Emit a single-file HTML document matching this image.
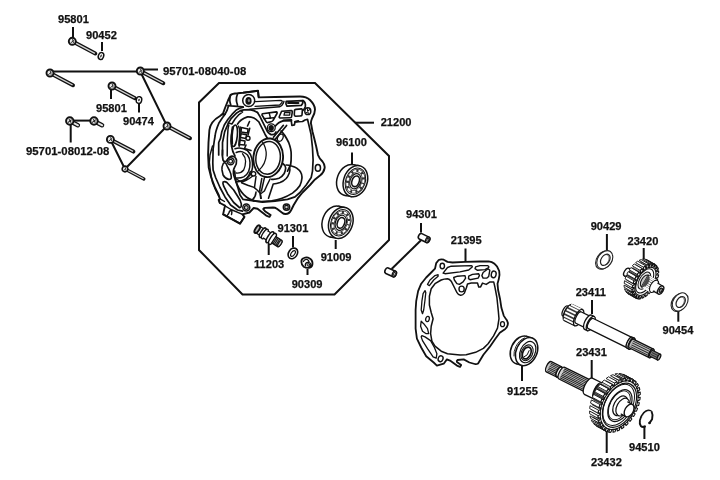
<!DOCTYPE html>
<html><head><meta charset="utf-8">
<style>
html,body{margin:0;padding:0;background:#fff;}
body{width:720px;height:480px;overflow:hidden;}
svg{display:block;filter:blur(0.35px);}
text{font-family:"Liberation Sans",sans-serif;font-weight:bold;font-size:11.1px;fill:#111;stroke:#111;stroke-width:0.25px;}
.ld{stroke:#111;stroke-width:2;fill:none;stroke-linecap:butt;}
.k{stroke:#111;fill:none;stroke-linecap:round;stroke-linejoin:round;}
.w{fill:#fff;stroke:#111;stroke-linejoin:round;}
</style></head><body>
<svg width="720" height="480" viewBox="0 0 720 480">
<rect width="720" height="480" fill="#fff"/>
<defs>
<g id="bolt">
<line x1="0" y1="0" x2="23" y2="12.2" stroke="#111" stroke-width="4" stroke-linecap="round"/>
<line x1="3" y1="1.6" x2="22.6" y2="12" stroke="#d4d4d4" stroke-width="1.4"/>
<circle cx="0" cy="0" r="3.5" fill="#e8e8e8" stroke="#111" stroke-width="1.9"/>
<path d="M-1.8,1.8 L1.6,-1 M0.2,-2.2 L1.2,1.8" stroke="#333" stroke-width="1" fill="none"/>
</g>
<g id="sbolt">
<line x1="0" y1="0" x2="8" y2="4.2" stroke="#111" stroke-width="4.6" stroke-linecap="round"/>
<line x1="4" y1="2.1" x2="8.2" y2="4.3" stroke="#e4e4e4" stroke-width="1.9" stroke-linecap="round"/>
<circle cx="0" cy="0" r="3.7" fill="#eee" stroke="#111" stroke-width="2"/>
<path d="M-2,1.6 L1.8,-1.4 M-0.8,-1.8 L1.4,1.6" stroke="#222" stroke-width="1.1" fill="none"/>
</g>
</defs>

<!-- ===== LEADERS / FRAME ===== -->
<g id="frame">
<path class="ld" d="M219,83 L315,83 L389,156 L389,240 L334.5,294.5 L242.5,294.5 L199,250 L199,102.5 Z" stroke-linejoin="miter"/>
<path class="ld" d="M355,122.7 H374"/>
</g>
<g id="leaders">
<path class="ld" d="M73,27 V38"/>
<path class="ld" d="M102,42 V51"/>
<path class="ld" d="M52,71.5 H140" stroke-width="2.2"/>
<path class="ld" d="M144,69.5 H158"/>
<path class="ld" d="M141,73 L167,126 L125,169 L110.8,140.5"/>
<path class="ld" d="M111,90 V99"/>
<path class="ld" d="M139,104 V112.5"/>
<path class="ld" d="M72,120.6 H91" stroke-width="2.2"/>
<path class="ld" d="M70.7,125 V142.5"/>
<path class="ld" d="M352,152.5 V164"/>
<path class="ld" d="M335.7,240 V249"/>
<path class="ld" d="M293,236 V247.5"/>
<path class="ld" d="M268.7,244 V255"/>
<path class="ld" d="M307.5,269 V275"/>
<path class="ld" d="M421,223 V232.5"/>
<path class="ld" d="M421,240.2 L391.6,269" stroke-width="1.8"/>
<path class="ld" d="M465.5,248.5 V262"/>
<path class="ld" d="M522,366 V381"/>
<path class="ld" d="M606.9,234 V250.5"/>
<path class="ld" d="M643.7,248 V260"/>
<path class="ld" d="M592,300 V314"/>
<path class="ld" d="M678.3,310.5 V321.7"/>
<path class="ld" d="M591.7,360 V381"/>
<path class="ld" d="M606.7,431 V453"/>
<path class="ld" d="M644.4,425.5 V439"/>
</g>

<!-- ===== LABELS ===== -->
<g id="labels">
<text x="58" y="23.3">95801</text>
<text x="86" y="38.8">90452</text>
<text x="163" y="74.6" style="font-size:11.35px">95701-08040-08</text>
<text x="96" y="111.7">95801</text>
<text x="123" y="125.0">90474</text>
<text x="26" y="155.2" style="font-size:11.35px">95701-08012-08</text>
<text x="380.7" y="126.0">21200</text>
<text x="336" y="146.0">96100</text>
<text x="277.5" y="231.7">91301</text>
<text x="254" y="267.5">11203</text>
<text x="320.7" y="261.0">91009</text>
<text x="291.7" y="288.0">90309</text>
<text x="406" y="218.0">94301</text>
<text x="450.8" y="243.5">21395</text>
<text x="507" y="394.5">91255</text>
<text x="590.7" y="229.5">90429</text>
<text x="627.5" y="244.5">23420</text>
<text x="575.7" y="295.7">23411</text>
<text x="662.5" y="334.0">90454</text>
<text x="576" y="355.7">23431</text>
<text x="591" y="466.0">23432</text>
<text x="629" y="451.0">94510</text>
</g>

<!-- ===== BOLTS ===== -->
<g id="bolts">
<use href="#bolt" x="72.3" y="41.3"/>
<use href="#bolt" x="50" y="73"/>
<use href="#bolt" x="140.3" y="71"/>
<use href="#bolt" x="112" y="86"/>
<use href="#bolt" x="167" y="126"/>
<use href="#bolt" x="110.4" y="139.4"/>
<use href="#bolt" transform="translate(125,169) scale(0.82)"/>
<use href="#sbolt" x="69.8" y="121"/>
<use href="#sbolt" x="94" y="121"/>
<!-- washers -->
<ellipse cx="101" cy="56" rx="2.6" ry="3.6" transform="rotate(20 101 56)" class="w" stroke-width="1.5"/>
<ellipse cx="101" cy="56" rx="0.6" ry="1.6" transform="rotate(20 101 56)" fill="#111"/>
<ellipse cx="139" cy="100" rx="2.7" ry="3.4" transform="rotate(15 139 100)" class="w" stroke-width="1.4"/>
<ellipse cx="139" cy="100" rx="0.7" ry="1.3" transform="rotate(15 139 100)" fill="#111"/>
</g>

<!--HOUSING-->
<g id="housing" class="k" stroke-width="1.7">
<!-- outer contour -->
<path fill="#fff" stroke-width="1.9" d="M258.7,97.4 L275,97 L300,96.5 C305,96.5 308,98 310,100 C313,103 315,106 315,109.5 C315,113 313.5,116 312,118.5 C311,121 311,124 311.2,124.5 L312.5,131.7 L314.4,139 L316.2,146.5 L318,155 C319,158 321,160 322.5,161.5 C324.5,164 325,166.5 324.5,168.5 C324,171.5 322,174 320,175.6 L315,179.4 L310,185 L302.5,192.5 L297.5,198.7 L293.7,205 L291.2,210 C290,212.5 288,214 285.6,214 C284,214 283,213.5 282.5,213 L276.9,208.7 C275.5,207.8 274.5,207.5 273,207.5 L265,207.9 C263.5,208 263,209 263.5,209.4 L265,211.2 L270.6,215 L269.4,216.9 L266.2,215.6 L257.5,208.7 L253.7,208 L249.4,212.5 L242.5,214.4 L244.4,216.9 L240,223.7 L223.1,214.4 L225,205.6 L220,203 L218.7,200 L220,198.7 L218.7,195 L215,187.5 L211.2,177.5 L208.7,167.5 L208.1,155 L208.5,142.5 L209.4,130 C210,125 213,120 220,116 L223,113.6 L225,108 L228,100.5 L230.6,95 C232,93.5 235,93.3 237.5,93.2 L243,92.7 L258,90.7 Z"/>
<!-- flag top thick -->
<path d="M243.5,92.6 L258,90.8 L258.6,97" stroke-width="1.8"/>
<!-- cylinder left of boss -->
<path d="M230.6,95 Q228.8,99.5 230.8,105 M237.5,94 Q235.2,99.5 237.5,105 M228,105.6 L243,106.8"/>
<!-- boss -->
<circle cx="248.7" cy="100.5" r="6" fill="#fff" stroke-width="1.5"/>
<ellipse cx="248.5" cy="100.9" rx="3.1" ry="3.8" fill="#111" stroke="none"/>
<ellipse cx="248.9" cy="100.6" rx="1.1" ry="1.7" fill="#888" stroke="none"/>
<!-- left side parallel contours -->
<path d="M213,150 L214.4,140 L215.1,136 Q215.5,131 218.8,123.3 L222.6,117.5 L225.1,114.2 L227.2,110 L228.6,105.6"/>
<path d="M222.2,114.6 L225.1,114.2" />
<path d="M212.5,146 L210,155 L209.4,162.5 L210.6,172.5 L212.5,182.5 L215.6,190 L219,197" stroke-width="1.4"/>
<path d="M218.7,155 L218.7,142.5 L220.5,138.3 L221.8,131.7 L224.3,125 L228,119.2 L232.2,114.2 L236.3,110 L239.7,108.3 L243.3,107.2"/>
<path d="M222.5,155 L222.5,142.5 L223.4,138.3 L224.7,131.7 L227.2,125.8 L228.4,122.9 L231.3,118.3 L236.3,113.3 L240.5,110.6 L243.8,109.8 L249.7,109.6 Q254,110.3 257.5,112.4"/>
<!-- slot left -->
<path d="M228.4,122.9 L231.9,124 L235,119 L239,114.6 L242.6,112 L240.5,110.6" stroke-width="1.5"/>
<path d="M227.2,156 L227.4,138.3 L228,129.2 L228.8,125" stroke-width="1.5"/>
<!-- slot1 -->
<path d="M255.2,101.6 L281,100.4 Q283.2,100.6 281.6,102.9 L279.6,105 L255,106.3" stroke-width="1.3"/>
<path d="M250,109.2 L279.6,106.8 Q282,106 283.2,103.4 L284,101.3" stroke-width="1.4"/>
<!-- slot2 -->
<path d="M286.2,101.4 Q285.3,104 287,106.1 L301.3,105.4 Q303.6,103.2 302.5,100.7 Z"/>
<path d="M288,103 H298.5" stroke-width="1.9"/>
<path d="M303,100.5 Q306,102.5 305.3,106.5 Q304.8,109 303,110.3"/>
<!-- bolt hole right -->
<ellipse cx="307.8" cy="111.2" rx="3" ry="3.4" fill="#fff" stroke-width="1.5"/>
<path d="M306,112.8 L309.6,109.6 M307.3,108.5 L308.3,113.8" stroke-width="1.1"/>
<!-- pocket3 -->
<path d="M294.5,110.6 Q294.2,109.6 296,109.4 L301.3,108.9 Q302.6,109 302.3,111 L302,115 Q301.8,116 300,116 L295.5,116.2 Q294.2,116 294.3,114.5 Z" stroke-width="1.6"/>
<!-- pocket4 -->
<path d="M281.6,111.3 L291.3,110.6 Q292.5,110.8 292.2,112.5 L291.5,117 Q291.2,117.8 290,117.8 L280,118 Q278.8,117.6 279.3,116.5 Z" stroke-width="1.6"/>
<path d="M284.6,112.6 L290,112.3 L289.7,115 L284,115.2 Z" stroke-width="1.3"/>
<!-- triangle pockets -->
<path d="M262.5,113.8 L276.3,111.9 Q277.6,112.2 277,113.5 L273,120.5 Q272.5,121.5 271,121.8 L267.5,122.6 Q266.5,122.6 266,121.5 L262,115 Q261.8,114 262.5,113.8 Z" stroke-width="1.6"/>
<path d="M269.2,113 L270.6,118.4 M263.8,118.6 L274,117.8" stroke-width="1.4"/>
<!-- rib to center bolt hole & bracket -->
<path d="M257.5,112.4 Q260,116 262.5,121.7 L266.2,129.2 Q268,133.5 271,134.6 Q274.5,135.3 276,132"/>
<circle cx="271.3" cy="127.8" r="3.9" fill="#fff" stroke-width="1.3"/>
<ellipse cx="271.2" cy="127.9" rx="2.7" ry="3" fill="#111" stroke="none"/>
<path d="M275.4,126 Q278,122.3 283.7,120.6 L291.2,120.3 L291.9,125.5 L294.4,124.9 L295,121.8 L302.5,121.5 L305,120 L307.5,119.3 L308.7,124.2 L311,134 L312.5,148 L313.1,160 L312.5,171.2 L311.2,177.5 L306.2,185 L300,192.5 L295,196.9 L287.5,199.4 L275,201.2 L262.5,202.2 L253.7,200.8" />
<path d="M283.5,120.5 L291.3,120.2 M295.2,121.7 L298.2,121" stroke-width="2.2"/>
<!-- lever -->
<path d="M286.6,125.5 L275.2,139.4 M283.4,125.3 L273.4,137.2"/>
<ellipse cx="280.3" cy="137.7" rx="2.6" ry="3.8" transform="rotate(25 280.3 137.7)" stroke-width="1.3"/>
<!-- inner cavity top arc -->
<path d="M237.5,124.2 Q240,119.5 247.5,116.9 Q254,116.5 258.7,121.7 L262.5,129.2 L265,134.2 L267.5,138.5"/>
<!-- narrow oval at left -->
<ellipse cx="234.3" cy="135.8" rx="3" ry="10.8" transform="rotate(6 234.3 135.8)" stroke-width="1.6"/>
<path d="M238.5,126 Q241.5,134 239.5,146" stroke-width="1.3"/>
<!-- small blocks -->
<path d="M241.5,127.5 L248,129 L247.5,133 L241,132 Z M241,133.8 L246.5,134.8 L246,138.5 L240.5,137.5 Z M239.5,140 L245,141 L244.5,145 L239,144.5 Z" stroke-width="1.5"/>
<path d="M249.7,128.3 L248,135 M247.5,126 L249.5,121.5 M246,145 L244.5,148.5 L251,150.5 M240.2,127 L239,146" stroke-width="1.6"/>
<circle cx="248" cy="138.3" r="2" fill="#fff" stroke-width="1.4"/>
<path d="M233.2,128 Q231.8,136 232.6,144" stroke-width="1.1"/>
<!-- big curve right of ring -->
<path d="M281,131 Q284.5,134 288.7,142.5 Q291.5,150 291.2,155 Q291.3,161 290.6,165 L287.5,171.2"/>
<!-- pocket right (bowl 1) -->
<path d="M286.2,165 Q289,165.2 291.5,166 Q295,167 296.7,168.1 Q300,170.5 300.8,172.3 Q302.3,175 301.9,178.5 Q301.5,182.5 299.8,185.8 Q297,190 292.5,193.1 Q288,196 282.1,198.3 Q277,200.2 271.7,200.9 L261.2,201.5 Q256,201.4 252.9,200.4 Q249,199 246.7,197.3 Q243.5,195 241.5,192.1 Q238.5,188 237.3,184.8 Q235.6,181 235.2,177.5 L234.7,171.2"/>
<!-- rim below ring -->
<path d="M283.1,163.7 Q285.8,165.5 285.7,168 Q285.3,171.5 284.2,173.5 Q282,177 279,178.3 Q275.5,179.6 271.7,179.3"/>
<path d="M289.6,167 Q290.4,170 289.3,173 Q288,176.5 286.2,178.5 Q283.5,181.3 280,182.6 Q276.5,183.8 273.2,184 L268.5,198.3" stroke-width="1.6"/>
<!-- left ring (behind) -->
<path d="M235,148.7 Q241,146.5 247.5,150.6 Q251,154 251.9,158.7 Q253,164 252.5,167.5 Q252,172 250,175 Q247,179 242.5,180.6 Q239.5,181.8 236.2,181.9" stroke-width="1.6"/>
<path d="M236.2,152.5 Q240,151 242.5,151.9 Q245.5,153 247.5,155 Q250,158.5 250,162.5 Q250.2,167 248.7,171.2 Q247,175 243.7,176.9 Q240,178.5 236.2,178" stroke-width="1.5"/>
<path d="M242.5,153.7 Q245.5,157 245.6,161.2 Q245.5,166 243.7,170 Q241,173.5 236.2,173" stroke-width="1.3"/>
<!-- big ring -->
<ellipse cx="268.2" cy="157.8" rx="14.8" ry="19.4" transform="rotate(7 268.2 157.8)" fill="#fff" stroke-width="1.9"/>
<ellipse cx="268.1" cy="157.8" rx="12.2" ry="16.4" transform="rotate(7 268.1 157.8)" stroke-width="1.5"/>
<path d="M262.5,142 Q266.5,148 266.2,155 Q265.8,164 258.7,170.5" stroke-width="1.3"/>
<circle cx="253.5" cy="173.8" r="2.2" fill="#fff" stroke-width="1.4"/>
<!-- ribs below rings -->
<path d="M256,176.5 L254.5,187.4 M261.8,178.5 L259.7,190 L260.7,198.3 M264.4,177.8 L261.4,191 M270.1,179 Q266.5,186 264.4,191 L261,193.5" stroke-width="1.5"/>
<path d="M241.5,182.7 L247.7,185.3 L254,187.4 L257.1,190 L260.2,193.1 L261.2,198.3 M256,192.1 Q255.8,196.5 252.4,199.9" stroke-width="1.5"/>
<path d="M235.7,178.5 Q239,181.5 242.5,181.7 Q246,180.5 248.7,175.4 L250.3,171.5 M241.5,182.2 Q246,181 249.3,178.5 L252.4,176.3" stroke-width="1.4"/>
<!-- bottom-left: second line -->
<path d="M213.1,150 L212.8,163 L213.1,170 L215.6,177.5 L220,187.5 L225,196.9 L230.6,205 L237.5,210 L242.5,211.2"/>
<!-- bolt hole left & Y rib -->
<circle cx="230.6" cy="161.3" r="3.5" fill="#fff" stroke-width="1.4"/>
<circle cx="230.6" cy="161.3" r="1.9" stroke-width="1.2"/>
<path d="M222.5,150 Q222,156 223,160 Q224.5,163 226.9,160.5 Q229,156.5 232,156 Q235.5,156.5 236.5,160 Q237,164 234.5,167.5 Q232.5,171 234,176 L236.2,182.5 L238,188 L240,195 L243.1,199.4 L253.7,200.8"/>
<path d="M232.5,127 Q231,137 231.5,146 Q232.5,152 235,156"/>
<!-- upper pocket -->
<path d="M223.3,163.5 Q221.5,167 222,170 L223.1,175 Q225,178.5 228.7,179.4 Q231.5,179.5 231.3,177 Q231,173.5 229.5,170.5 Q227,166 226,163.5 Q224.5,162 223.3,163.5 Z" stroke-width="1.6"/>
<!-- lower elongated pocket -->
<path d="M223.1,181.9 Q225,181 226.9,182.5 L233.7,190 L240,200 Q241.8,204 241.2,206.2 Q240.5,208 239.4,207.5 L233.7,202.5 L227.5,193.7 L223.7,186.2 Q222.5,183 223.1,181.9 Z" stroke-width="1.7"/>
<!-- bolt holes bottom -->
<circle cx="246.3" cy="207.5" r="3.5" fill="#fff" stroke-width="1.5"/>
<circle cx="246.3" cy="207.6" r="1.9" stroke-width="1.2" fill="#ccc"/>
<circle cx="286.5" cy="207.1" r="3.2" fill="#fff" stroke-width="1.5"/>
<circle cx="286.5" cy="207.1" r="1.8" stroke-width="1.2" fill="#ccc"/>
<!-- lug hole right -->
<ellipse cx="317.9" cy="167.9" rx="2.6" ry="3.3" fill="#fff" stroke-width="1.5"/>
<!-- drain box -->
<path d="M226.9,216.2 L230.6,210 M225,205.8 L231,209.5 L242.5,214.4 M228.5,214 Q229,211 231,210 Q232.5,211 231.5,214.5 M220,198.8 L224.5,201.5 M219,200.2 L219.5,203" stroke-width="1.4"/>
<path d="M223.3,214.3 L240,223.6 L244.3,217" stroke-width="1.7"/>
</g>

<!--/HOUSING-->
<!--SMALLPARTS-->
<g id="smallparts" class="k" stroke-width="1.4">
<defs>
<g id="bearing">
<ellipse cx="-6.5" cy="-1.2" rx="11.8" ry="16" transform="rotate(20 -6.5 -1.2)" fill="#fff" stroke-width="1.5"/>
<path d="M4.07,-15.42 L-2.43,-16.62 L-10.57,14.22 L-4.07,15.42 Z" fill="#fff" stroke="none"/>
<path d="M4.07,-15.42 L-2.43,-16.62 M-10.57,14.22 L-4.07,15.42" stroke-width="1.4"/>
<ellipse cx="0" cy="0" rx="11.8" ry="16" transform="rotate(20)" fill="#fff" stroke-width="1.5"/>
<ellipse cx="0" cy="0" rx="9.8" ry="13.6" transform="rotate(20)" stroke-width="1"/>
<ellipse cx="0" cy="0" rx="7.7" ry="10.9" transform="rotate(20)" stroke-width="3.4" stroke="#333"/>
<ellipse cx="0" cy="0" rx="7.7" ry="10.9" transform="rotate(20)" stroke-width="2" stroke-dasharray="3.3 2.1" stroke="#fff" stroke-linecap="butt"/>
<ellipse cx="0" cy="0" rx="5.4" ry="7.8" transform="rotate(20)" stroke-width="1.2" fill="#fff"/>
<ellipse cx="0.2" cy="0" rx="3.6" ry="5.5" transform="rotate(20)" stroke-width="1.6"/>
</g>
<g id="pin">
<path d="M0,-3 L8,-3 A1.9,3 0 0 1 8,3 L0,3 A1.9,3 0 0 1 0,-3 Z" fill="#fff" stroke-width="1.6"/>
<ellipse cx="8" cy="0" rx="1.9" ry="3" fill="#fff" stroke-width="1.3"/>
<ellipse cx="8.1" cy="0" rx="0.9" ry="1.6" stroke-width="0.9" fill="#ddd"/>
</g>
</defs>
<use href="#bearing" x="355.4" y="181.2"/>
<use href="#bearing" x="340.8" y="222.8"/>
<!-- 11203 fitting -->
<g transform="translate(257.3,229.2) rotate(32.5) scale(1.0,1.05)">
<path d="M0,-3.6 H7 V3.6 H0 Z" fill="#fff" stroke-width="1.2"/>
<ellipse cx="0" cy="0" rx="1.9" ry="4.1" fill="#bbb" stroke-width="1.9"/>
<path d="M6.5,-5.2 H9 V5.2 H6.5 Z" fill="#fff" stroke="none"/>
<ellipse cx="6.5" cy="0" rx="2" ry="5.2" fill="#fff" stroke-width="1.5"/>
<ellipse cx="9" cy="0" rx="2" ry="5.2" fill="#fff" stroke-width="1.3"/>
<path d="M10,-4 H15 V4 H10" fill="#fff" stroke-width="1.2"/>
<path d="M15,-6 H18 V6 H15 Z" fill="#fff" stroke="none"/>
<ellipse cx="15" cy="0" rx="2.2" ry="6" fill="#fff" stroke-width="1.6"/>
<ellipse cx="18" cy="0" rx="2.2" ry="6" fill="#fff" stroke-width="1.4"/>
<path d="M19.5,-3.6 H26.5 A1.5,3.6 0 0 1 26.5,3.6 H19.5 Z" fill="#999" stroke-width="1.3"/>
<path d="M21,-3.4 V3.4 M22.6,-3.4 V3.4 M24.2,-3.4 V3.4 M25.8,-3.2 V3.2" stroke-width="0.9"/>
<ellipse cx="26.7" cy="0" rx="1.3" ry="3.3" fill="#ccc" stroke-width="1.1"/>
</g>
<!-- 91301 washer -->
<ellipse cx="292.9" cy="253.4" rx="4.3" ry="5.7" transform="rotate(35 292.9 253.4)" fill="#fff" stroke-width="1.6"/>
<ellipse cx="293" cy="253.5" rx="1.7" ry="3.3" transform="rotate(35 293 253.5)" stroke-width="1.2"/>
<!-- 90309 nut -->
<g transform="translate(306.9,263)">
<path d="M-5.5,-1 Q-5.8,-4 -3,-5 Q0,-6.2 2.5,-4.8 Q5.5,-3.3 5.6,0 Q5.8,3.6 3,4.6 Q0,5.6 -3.2,3.8 Q-5.4,2.2 -5.5,-1 Z" fill="#fff" stroke-width="1.8"/>
<path d="M-3.5,-1.5 Q-2.5,-4 0,-3.6 Q2,-3 2.2,-1 M-1.5,2.8 Q-2,0 0.5,-0.6 Q3.4,-1 4,1.5 Q4.2,3.6 2,4.2" stroke-width="1.3"/>
<ellipse cx="1.4" cy="1.8" rx="1.2" ry="1.4" fill="#bbb" stroke-width="0.9"/>
</g>
<!-- 94301 pins -->
<use href="#pin" transform="translate(420.5,236.3) rotate(26)"/>
<use href="#pin" transform="translate(387,270.7) rotate(24)"/>
</g>

<!--/SMALLPARTS-->
<!--GASKET-->
<g id="gasket" class="k" stroke-width="1.6">
<!-- outer contour -->
<path fill="#fff" stroke-width="1.8" d="M438.7,260 Q441,258.8 443.7,259.7 L447.5,261.9 L452.5,262.5 L465,261.9 L480,261.5 L488.7,261.3 Q492,261.6 494.5,263.8 Q498,266.5 499.2,271 Q500,275 498.8,279 L497.5,283.7 L498.1,290 L500,298.7 L501.4,307.8 L503.7,315.6 Q505.5,318.5 506.9,320.3 Q508.3,322.8 507.7,325 Q507,327.5 505.3,328.9 L499.8,332.8 L495.2,339 L489.7,346.9 L483.4,354.7 L478.1,363.5 Q476.5,364.5 474.8,364 L469.4,362.5 L463.7,359.4 L457.5,360 Q456.3,360.8 456.9,361.9 L461.2,365 L460,366.9 L456.9,365.6 L450,360.6 L446.9,359.4 L443.7,363.7 L436.9,365.6 L433.7,362.5 L426.2,356.2 L421.2,347.5 L416.9,338.7 L415.6,328.7 L415.6,318.7 L415.6,310 L416.2,301.2 L418.1,291.2 L421.2,283.7 L426.2,277.5 L431.2,272.5 L435,268.7 L436.2,263.1 Z"/>
<!-- inner contour -->
<path stroke-width="1.5" d="M447.5,278.7 Q444,278.8 441.2,280 L435,283.7 L431.2,288.7 L429.4,296.2 L429.4,305 L431.2,312.5 L433.1,318.7 L431.2,326.2 L430.6,333.7 L431.9,341.2 L435,346.2 L441.2,351.2 L447.5,353.7 L460,355 L466.2,354.7 L475.6,352.3 L483.4,348.4 L488.1,343.7 L493.6,335.9 L497.5,328.1 L499,318.7 L498.3,310.9 L496.9,297.5 L495,287.5 L493.7,281.9 L490,281.9 L486.2,284.4 L482.5,283.1 L480.6,286.9 L478.7,286.9 L477.5,283.1 L471.2,283.1 L467.5,284 L466.5,287.5 L464.4,293.1 Q462.5,295.5 460.5,295.2 Q458,294.8 456.9,292.5 L454.4,287.5 L451.2,281.2 Q449.5,279 447.5,278.7 Z"/>
<!-- holes -->
<ellipse cx="442.3" cy="266" rx="2.2" ry="2.7" stroke-width="1.4"/>
<ellipse cx="461.6" cy="289" rx="2.6" ry="2.9" stroke-width="1.4"/>
<ellipse cx="493.7" cy="274.4" rx="2.4" ry="3.4" stroke-width="1.4" transform="rotate(12 493.7 274.4)"/>
<ellipse cx="502.5" cy="324.2" rx="2" ry="2.5" stroke-width="1.3"/>
<ellipse cx="440.6" cy="358.7" rx="2.4" ry="3" stroke-width="1.4" transform="rotate(20 440.6 358.7)"/>
<ellipse cx="427.5" cy="319" rx="1.8" ry="2.6" stroke-width="1.3" transform="rotate(15 427.5 319)"/>
<!-- slots top -->
<path d="M447.5,267.5 L451.2,266.2 L471.2,265.6 Q472.6,266 472.2,266.9 L468.7,270 L460,271.9 L445,273.7 L443.1,273.1 Z" stroke-width="1.4"/>
<path d="M475.6,266.9 L480,265.6 L487.5,265.6 Q489.2,266.3 488.7,267.5 L485,269.6 L477.5,270.3 L475,268.7 Z" stroke-width="1.4"/>
<path d="M483.1,272.5 L488.1,268.7 L489.8,270.3 L488.7,276.5 L486.9,278.1 L483.1,278.1 L481.9,275.6 Z" stroke-width="1.4"/>
<path d="M468.7,276.2 L472.5,274.4 L478.7,273.7 L479.4,275.6 L478.1,278.1 L470,279.7 L468.5,278.7 Z" stroke-width="1.4"/>
<path d="M453.7,277.5 L457.5,276.2 L465,275.6 L465.6,278.1 L463.1,281.9 L459.4,284.4 L456.9,283.7 L454.4,280 Z" stroke-width="1.4"/>
<path d="M427.5,284.4 L430,280 L435,275.6 L438.1,274.7 L438.1,276.2 L433.7,280 L429.4,285.6 Z" stroke-width="1.3"/>
<path d="M421.2,310 L421.9,301.2 L423.1,293.7 L425,290.6 L425.8,292.5 L425,300 L423.7,310 L422.5,313.7 Z" stroke-width="1.3"/>
<!-- pockets left-bottom -->
<path d="M421.2,321.2 L423.7,323.7 L427.5,328.7 L428.7,333.7 L426.2,333.7 L422.5,331.2 L420.6,326.2 Z" stroke-width="1.3"/>
<path d="M421.9,335.6 L425,336.9 L430.6,340.6 L434.4,347.5 L436.9,353.7 L436.2,358.1 L433.1,356.9 L427.5,348.7 L422.5,340.6 L421.2,336.9 Z" stroke-width="1.3"/>
</g>

<!--/GASKET-->
<!--RIGHTPARTS-->
<g id="rightparts" class="k" stroke-width="1.3">
<ellipse cx="603.5999999999999" cy="260.2" rx="7.0" ry="9.9" transform="rotate(34 603.5999999999999 260.2)" fill="#fff" stroke="#222" stroke-width="1.1"/>
<ellipse cx="604.8" cy="259.7" rx="7.0" ry="9.9" transform="rotate(34 604.8 259.7)" fill="#fff" stroke="#222" stroke-width="1.1"/>
<ellipse cx="605.3" cy="259.8" rx="4.1" ry="6.2" transform="rotate(34 605.3 259.8)" fill="#fff" stroke="#222" stroke-width="1.2"/>
<path d="M605.3,254.7 L605.5,254.6 L605.7,254.6 L606.0,254.6 L606.2,254.6 L606.5,254.6 L606.7,254.7 L606.9,254.7 L607.1,254.8 L607.3,254.8 L607.5,254.9 L607.7,255.1 L607.9,255.2 L608.0,255.3 L608.2,255.5 L608.3,255.6 L608.5,255.8 L608.6,256.0 L608.7,256.2 L608.8,256.4 L608.9,256.6 L609.0,256.9 L609.0,257.1 L609.1,257.4 L609.1,257.6 L609.1,257.9 L609.1,258.2 L609.1,258.5 L609.1,258.7 L609.1,259.0 L609.0,259.3 L609.0,259.6 L608.9,259.9 L608.8,260.2 L608.7,260.5 L608.6,260.8 L608.5,261.1 L608.3,261.4 L608.2,261.7 L608.0,262.0 L607.9,262.2 L607.7,262.5 L607.7,262.5 L607.5,262.8 L607.3,263.0 L607.1,263.3 L606.9,263.5 L606.7,263.8 L606.4,264.0 L606.2,264.2 L606.0,264.4 L605.7,264.6 L605.5,264.8 L605.2,265.0" stroke="#333" stroke-width="0.9"/>
<ellipse cx="679.0" cy="302.4" rx="7.0" ry="9.8" transform="rotate(33 679.0 302.4)" fill="#fff" stroke="#222" stroke-width="1.1"/>
<ellipse cx="680.2" cy="301.9" rx="7.0" ry="9.8" transform="rotate(33 680.2 301.9)" fill="#fff" stroke="#222" stroke-width="1.1"/>
<ellipse cx="680.7" cy="302.0" rx="4.0" ry="6.0" transform="rotate(33 680.7 302.0)" fill="#fff" stroke="#222" stroke-width="1.2"/>
<path d="M680.5,297.0 L680.8,297.0 L681.0,297.0 L681.2,296.9 L681.5,296.9 L681.7,297.0 L681.9,297.0 L682.1,297.0 L682.3,297.1 L682.5,297.2 L682.7,297.3 L682.9,297.4 L683.1,297.5 L683.2,297.6 L683.4,297.8 L683.5,297.9 L683.7,298.1 L683.8,298.3 L683.9,298.5 L684.0,298.7 L684.1,298.9 L684.2,299.1 L684.2,299.4 L684.3,299.6 L684.3,299.8 L684.4,300.1 L684.4,300.4 L684.4,300.6 L684.3,300.9 L684.3,301.2 L684.3,301.5 L684.2,301.8 L684.2,302.1 L684.1,302.3 L684.0,302.6 L683.9,302.9 L683.8,303.2 L683.6,303.5 L683.5,303.8 L683.4,304.1 L683.2,304.3 L683.0,304.6 L683.0,304.6 L682.9,304.9 L682.7,305.1 L682.5,305.4 L682.3,305.6 L682.1,305.8 L681.8,306.1 L681.6,306.3 L681.4,306.5 L681.2,306.7 L680.9,306.8 L680.7,307.0 L680.4,307.2" stroke="#333" stroke-width="0.9"/>
<path d="M635.2,280.5 L624.5,276.1 L628.9,268.4 L639.6,272.9 Z" fill="#fff" stroke-width="1.2"/>
<ellipse cx="626.7" cy="272.2" rx="2.4" ry="4.4" transform="rotate(30.0 626.7 272.2)" fill="#fff" stroke-width="1.4"/>
<path d="M628.0,293.7 L629.3,294.1 L630.7,291.8 L631.4,291.8 L630.8,294.3 L632.3,294.2 L633.3,291.7 L634.2,291.5 L634.0,293.7 L635.7,293.0 L636.2,290.6 L637.1,290.1 L637.4,292.0 L639.2,290.7 L639.2,288.5 L640.1,287.8 L640.9,289.2 L642.5,287.5 L642.1,285.7 L642.9,284.7 L644.1,285.6 L645.5,283.5 L644.6,282.2 L645.3,281.1 L646.8,281.4 L648.0,279.1 L646.7,278.4 L647.2,277.2 L648.9,276.8 L649.7,274.5 L648.1,274.4 L648.4,273.3 L650.3,272.3 L650.6,270.1 L648.8,270.6 L648.8,269.6 L650.7,268.0 L650.6,266.1 L648.7,267.2 L648.5,266.3 L650.2,264.3 L649.7,262.8 L647.8,264.5 L647.4,263.8 L648.9,261.5 L647.9,260.5 L646.3,262.6 L645.7,262.2 L646.8,259.7 L645.5,259.3 L644.1,261.6 L643.4,261.6 L644.0,259.1 L642.5,259.2 L641.5,261.7 L640.6,261.9 L640.8,259.7 L639.1,260.4 L638.6,262.8 L637.7,263.3 L637.4,261.4 L635.6,262.7 L635.6,264.9 L634.7,265.6 L633.9,264.2 L632.3,265.9 L632.7,267.7 L631.9,268.7 L630.7,267.8 L629.3,269.9 L630.2,271.2 L629.5,272.3 L628.0,272.0 L626.8,274.3 L628.1,275.0 L627.6,276.2 L625.9,276.6 L625.1,278.9 L626.7,279.0 L626.4,280.1 L624.5,281.1 L624.2,283.3 L626.0,282.8 L626.0,283.8 L624.1,285.4 L624.2,287.3 L626.1,286.2 L626.3,287.1 L624.6,289.1 L625.1,290.6 L627.0,288.9 L627.4,289.6 L625.9,291.9 L626.9,292.9 L628.5,290.8 L629.1,291.2 Z" fill="#fff" stroke="none"/>
<path d="M638.7,296.4 L639.4,296.4 L631.4,291.8 L630.7,291.8 Z" fill="#3a3a3a" stroke="#3a3a3a" stroke-width="0.6"/>
<path d="M655.8,269.1 L655.4,268.4 L647.4,263.8 L647.8,264.5 Z" fill="#3a3a3a" stroke="#3a3a3a" stroke-width="0.6"/>
<path d="M654.3,267.2 L653.7,266.8 L645.7,262.2 L646.3,262.6 Z" fill="#3a3a3a" stroke="#3a3a3a" stroke-width="0.6"/>
<path d="M652.1,266.2 L651.4,266.2 L643.4,261.6 L644.1,261.6 Z" fill="#3a3a3a" stroke="#3a3a3a" stroke-width="0.6"/>
<path d="M649.5,266.3 L648.6,266.5 L640.6,261.9 L641.5,261.7 Z" fill="#3a3a3a" stroke="#3a3a3a" stroke-width="0.6"/>
<path d="M646.6,267.4 L645.7,267.9 L637.7,263.3 L638.6,262.8 Z" fill="#3a3a3a" stroke="#3a3a3a" stroke-width="0.6"/>
<path d="M643.6,269.5 L642.7,270.2 L634.7,265.6 L635.6,264.9 Z" fill="#3a3a3a" stroke="#3a3a3a" stroke-width="0.6"/>
<path d="M640.7,272.3 L639.9,273.3 L631.9,268.7 L632.7,267.7 Z" fill="#3a3a3a" stroke="#3a3a3a" stroke-width="0.6"/>
<path d="M638.2,275.8 L637.5,276.9 L629.5,272.3 L630.2,271.2 Z" fill="#3a3a3a" stroke="#3a3a3a" stroke-width="0.6"/>
<path d="M636.1,279.6 L635.6,280.8 L627.6,276.2 L628.1,275.0 Z" fill="#3a3a3a" stroke="#3a3a3a" stroke-width="0.6"/>
<path d="M634.7,283.6 L634.4,284.7 L626.4,280.1 L626.7,279.0 Z" fill="#3a3a3a" stroke="#3a3a3a" stroke-width="0.6"/>
<path d="M634.0,287.4 L634.0,288.4 L626.0,283.8 L626.0,282.8 Z" fill="#3a3a3a" stroke="#3a3a3a" stroke-width="0.6"/>
<path d="M634.1,290.8 L634.3,291.7 L626.3,287.1 L626.1,286.2 Z" fill="#3a3a3a" stroke="#3a3a3a" stroke-width="0.6"/>
<path d="M635.0,293.5 L635.4,294.2 L627.4,289.6 L627.0,288.9 Z" fill="#3a3a3a" stroke="#3a3a3a" stroke-width="0.6"/>
<path d="M636.5,295.4 L637.1,295.8 L629.1,291.2 L628.5,290.8 Z" fill="#3a3a3a" stroke="#3a3a3a" stroke-width="0.6"/>
<path d="M636.0,298.3 L637.3,298.7 L629.3,294.1 L628.0,293.7 Z" fill="#fff" stroke-width="0.9"/>
<path d="M638.8,298.9 L640.3,298.8 L632.3,294.2 L630.8,294.3 Z" fill="#fff" stroke-width="0.9"/>
<path d="M658.2,268.9 L657.7,267.4 L649.7,262.8 L650.2,264.3 Z" fill="#fff" stroke-width="0.9"/>
<path d="M656.9,266.1 L655.9,265.1 L647.9,260.5 L648.9,261.5 Z" fill="#fff" stroke-width="0.9"/>
<path d="M654.8,264.3 L653.5,263.9 L645.5,259.3 L646.8,259.7 Z" fill="#fff" stroke-width="0.9"/>
<path d="M652.0,263.7 L650.5,263.8 L642.5,259.2 L644.0,259.1 Z" fill="#fff" stroke-width="0.9"/>
<path d="M648.8,264.3 L647.1,265.0 L639.1,260.4 L640.8,259.7 Z" fill="#fff" stroke-width="0.9"/>
<path d="M645.4,266.0 L643.6,267.3 L635.6,262.7 L637.4,261.4 Z" fill="#fff" stroke-width="0.9"/>
<path d="M641.9,268.8 L640.3,270.5 L632.3,265.9 L633.9,264.2 Z" fill="#fff" stroke-width="0.9"/>
<path d="M638.7,272.4 L637.3,274.5 L629.3,269.9 L630.7,267.8 Z" fill="#fff" stroke-width="0.9"/>
<path d="M636.0,276.6 L634.8,278.9 L626.8,274.3 L628.0,272.0 Z" fill="#fff" stroke-width="0.9"/>
<path d="M633.9,281.2 L633.1,283.5 L625.1,278.9 L625.9,276.6 Z" fill="#fff" stroke-width="0.9"/>
<path d="M632.5,285.7 L632.2,287.9 L624.2,283.3 L624.5,281.1 Z" fill="#fff" stroke-width="0.9"/>
<path d="M632.1,290.0 L632.2,291.9 L624.2,287.3 L624.1,285.4 Z" fill="#fff" stroke-width="0.9"/>
<path d="M632.6,293.7 L633.1,295.2 L625.1,290.6 L624.6,289.1 Z" fill="#fff" stroke-width="0.9"/>
<path d="M633.9,296.5 L634.9,297.5 L626.9,292.9 L625.9,291.9 Z" fill="#fff" stroke-width="0.9"/>
<path d="M636.0,298.3 L637.3,298.7 L638.7,296.4 L639.4,296.4 L638.8,298.9 L640.3,298.8 L641.3,296.3 L642.2,296.1 L642.0,298.3 L643.7,297.6 L644.2,295.2 L645.1,294.7 L645.4,296.6 L647.2,295.3 L647.2,293.1 L648.1,292.4 L648.9,293.8 L650.5,292.1 L650.1,290.3 L650.9,289.3 L652.1,290.2 L653.5,288.1 L652.6,286.8 L653.3,285.7 L654.8,286.0 L656.0,283.7 L654.7,283.0 L655.2,281.8 L656.9,281.4 L657.7,279.1 L656.1,279.0 L656.4,277.9 L658.3,276.9 L658.6,274.7 L656.8,275.2 L656.8,274.2 L658.7,272.6 L658.6,270.7 L656.7,271.8 L656.5,270.9 L658.2,268.9 L657.7,267.4 L655.8,269.1 L655.4,268.4 L656.9,266.1 L655.9,265.1 L654.3,267.2 L653.7,266.8 L654.8,264.3 L653.5,263.9 L652.1,266.2 L651.4,266.2 L652.0,263.7 L650.5,263.8 L649.5,266.3 L648.6,266.5 L648.8,264.3 L647.1,265.0 L646.6,267.4 L645.7,267.9 L645.4,266.0 L643.6,267.3 L643.6,269.5 L642.7,270.2 L641.9,268.8 L640.3,270.5 L640.7,272.3 L639.9,273.3 L638.7,272.4 L637.3,274.5 L638.2,275.8 L637.5,276.9 L636.0,276.6 L634.8,278.9 L636.1,279.6 L635.6,280.8 L633.9,281.2 L633.1,283.5 L634.7,283.6 L634.4,284.7 L632.5,285.7 L632.2,287.9 L634.0,287.4 L634.0,288.4 L632.1,290.0 L632.2,291.9 L634.1,290.8 L634.3,291.7 L632.6,293.7 L633.1,295.2 L635.0,293.5 L635.4,294.2 L633.9,296.5 L634.9,297.5 L636.5,295.4 L637.1,295.8 Z" fill="#fff" stroke-width="1.1"/>
<ellipse cx="645.4" cy="281.3" rx="8.3" ry="15.6" transform="rotate(30.0 645.4 281.3)" stroke-width="1.1"/>
<ellipse cx="644.7" cy="280.9" rx="7.0" ry="13.4" transform="rotate(30.0 644.7 280.9)" stroke-width="1.1"/>
<ellipse cx="644.4" cy="280.7" rx="5.0" ry="9.5" transform="rotate(30.0 644.4 280.7)" stroke-width="1" fill="#e8e8e8"/>
<ellipse cx="645.0" cy="281.1" rx="3.6" ry="6.8" transform="rotate(30.0 645.0 281.1)" fill="#c8c8c8" stroke-width="1"/>
<path d="M641.6,286.9 L650.7,292.2 L657.5,280.4 L648.4,275.2 Z" fill="#4a4a4a" stroke="#111" stroke-width="0.8"/>
<path d="M649.4,276.3 L657.8,281.2" stroke-width="1.5" stroke="#fff" stroke-linecap="butt"/>
<path d="M649.7,278.3 L658.1,283.2" stroke-width="1.5" stroke="#fff" stroke-linecap="butt"/>
<path d="M649.4,280.4 L657.8,285.3" stroke-width="1.5" stroke="#fff" stroke-linecap="butt"/>
<path d="M648.5,282.5 L656.9,287.3" stroke-width="1.5" stroke="#fff" stroke-linecap="butt"/>
<path d="M647.3,284.4 L655.7,289.2" stroke-width="1.5" stroke="#fff" stroke-linecap="butt"/>
<path d="M645.9,285.9 L654.3,290.7" stroke-width="1.5" stroke="#fff" stroke-linecap="butt"/>
<path d="M644.3,286.9 L652.7,291.8" stroke-width="1.5" stroke="#fff" stroke-linecap="butt"/>
<path d="M642.7,287.3 L651.1,292.2" stroke-width="1.5" stroke="#fff" stroke-linecap="butt"/>
<ellipse cx="654.1" cy="286.3" rx="3.6" ry="6.8" transform="rotate(30.0 654.1 286.3)" fill="#fff" stroke-width="1.1"/>
<path d="M653.9,291.4 L658.4,294.0 L662.9,286.2 L658.4,283.6 Z" fill="#fff" stroke="none"/>
<path d="M653.4,291.1 L658.4,294.0 M657.9,283.3 L662.9,286.2" stroke-width="1.3"/>
<ellipse cx="660.6" cy="290.1" rx="2.5" ry="4.5" transform="rotate(30.0 660.6 290.1)" fill="#fff" stroke-width="1.4"/>
<ellipse cx="660.8" cy="290.2" rx="1.3" ry="2.3" transform="rotate(30.0 660.8 290.2)" fill="#999" stroke-width="1.2"/>
<g transform="translate(565.2,311.0) rotate(26.2)">
<path d="M0.0,-5.6 H3.5 V5.6 H0.0 A2.4,5.6 0 0 1 0.0,-5.6 Z" fill="#fff" stroke-width="1.3"/>
<ellipse cx="3.5" cy="0" rx="2.4" ry="5.6" fill="#fff" stroke-width="1.3"/>
<path d="M3.5,-9.0 H15.0 V9.0 H3.5 A3.8,9.0 0 0 1 3.5,-9.0 Z" fill="#3a3a3a" stroke-width="1.3"/>
<path d="M2.5,-8.3 H16.5" stroke="#fff" stroke-width="1.8" stroke-linecap="butt"/>
<path d="M1.3,-5.6 H18.0" stroke="#fff" stroke-width="1.8" stroke-linecap="butt"/>
<path d="M0.7,-2.2 H18.7" stroke="#fff" stroke-width="1.8" stroke-linecap="butt"/>
<path d="M0.6,1.3 H18.7" stroke="#fff" stroke-width="1.8" stroke-linecap="butt"/>
<path d="M1.1,4.7 H18.2" stroke="#fff" stroke-width="1.8" stroke-linecap="butt"/>
<path d="M2.1,7.6 H17.0" stroke="#fff" stroke-width="1.8" stroke-linecap="butt"/>
<ellipse cx="15.0" cy="0" rx="3.8" ry="9.0" fill="#fff" stroke-width="1.3"/>
<path d="M15.0,-6.3 H25.5 V6.3 H15.0 A2.6,6.3 0 0 1 15.0,-6.3 Z" fill="#fff" stroke-width="1.3"/>
<ellipse cx="25.5" cy="0" rx="2.6" ry="6.3" fill="#fff" stroke-width="1.3"/>
<path d="M25.5,-7.9 H28.5 V7.9 H25.5 A3.3,7.9 0 0 1 25.5,-7.9 Z" fill="#fff" stroke-width="1.3"/>
<ellipse cx="28.5" cy="0" rx="3.3" ry="7.9" fill="#fff" stroke-width="1.3"/>
<path d="M28.5,-5.7 H72.0 V5.7 H28.5 A2.4,5.7 0 0 1 28.5,-5.7 Z" fill="#fff" stroke-width="1.3"/>
<ellipse cx="72.0" cy="0" rx="2.4" ry="5.7" fill="#fff" stroke-width="1.3"/>
<path d="M72.0,-6.1 H74.0 V6.1 H72.0 A2.6,6.1 0 0 1 72.0,-6.1 Z" fill="#fff" stroke-width="1.3"/>
<ellipse cx="74.0" cy="0" rx="2.6" ry="6.1" fill="#fff" stroke-width="1.3"/>
<path d="M74.0,-4.8 H96.0 V4.8 H74.0 A2.0,4.8 0 0 1 74.0,-4.8 Z" fill="#bbb" stroke-width="1.3"/>
<path d="M74.3,-3.0 H97.6" stroke="#222" stroke-width="0.9" stroke-linecap="butt"/>
<path d="M74.3,-1.0 H98.0" stroke="#222" stroke-width="0.9" stroke-linecap="butt"/>
<path d="M74.3,1.1 H98.0" stroke="#222" stroke-width="0.9" stroke-linecap="butt"/>
<path d="M74.3,3.1 H97.5" stroke="#222" stroke-width="0.9" stroke-linecap="butt"/>
<ellipse cx="96.0" cy="0" rx="2.0" ry="4.8" fill="#ccc" stroke-width="1.3"/>
<path d="M96.0,-3.2 H104.5 V3.2 H96.0 A1.3,3.2 0 0 1 96.0,-3.2 Z" fill="#777" stroke-width="1.3"/>
<path d="M96.3,-1.0 H105.8" stroke="#222" stroke-width="0.8" stroke-linecap="butt"/>
<path d="M96.3,1.1 H105.8" stroke="#222" stroke-width="0.8" stroke-linecap="butt"/>
<ellipse cx="104.5" cy="0" rx="1.3" ry="3.2" fill="#aaa" stroke-width="1.3"/>
</g>
<ellipse cx="521.4" cy="350.0" rx="10.3" ry="14.7" transform="rotate(25 521.4 350.0)" fill="#fff" stroke-width="1.5"/>
<path d="M521.3,365.3 L516.1,363.7 L526.7,336.3 L531.9,337.9 Z" fill="#fff" stroke="none"/>
<path d="M521.3,365.3 L516.1,363.7 M526.7,336.3 L531.9,337.9" stroke-width="1.4"/>
<ellipse cx="526.6" cy="351.6" rx="10.3" ry="14.7" transform="rotate(25 526.6 351.6)" fill="#fff" stroke-width="1.5"/>
<ellipse cx="525.1" cy="351.20000000000005" rx="10.3" ry="14.7" transform="rotate(25 525.1 351.20000000000005)" stroke-width="0.8" stroke-dasharray="22 60" stroke-dashoffset="-30"/>
<ellipse cx="527.7" cy="352.1" rx="7.4" ry="11.2" transform="rotate(25 527.7 352.1)" stroke-width="1.2"/>
<ellipse cx="527.0" cy="352.8" rx="5.6" ry="8.3" transform="rotate(25 527.0 352.8)" stroke-width="1.1"/>
<ellipse cx="526.8000000000001" cy="353.0" rx="4" ry="6.2" transform="rotate(25 526.8000000000001 353.0)" stroke-width="1.7"/>
<path d="M524.4,356.8 Q527.6,356.20000000000005 529.2,350.6" stroke-width="1"/>
<g transform="translate(548.8,366.8) rotate(26.2)">
<path d="M0.0,-5.7 H11.5 V5.7 H0.0 A2.3,5.7 0 0 1 0.0,-5.7 Z" fill="#c6c6c6" stroke-width="1.3"/>
<path d="M0.3,-4.1 H13.1" stroke="#222" stroke-width="0.9" stroke-linecap="butt"/>
<path d="M0.3,-2.5 H13.6" stroke="#222" stroke-width="0.9" stroke-linecap="butt"/>
<path d="M0.3,-0.8 H13.8" stroke="#222" stroke-width="0.9" stroke-linecap="butt"/>
<path d="M0.3,0.9 H13.8" stroke="#222" stroke-width="0.9" stroke-linecap="butt"/>
<path d="M0.3,2.5 H13.5" stroke="#222" stroke-width="0.9" stroke-linecap="butt"/>
<path d="M0.3,4.2 H13.1" stroke="#222" stroke-width="0.9" stroke-linecap="butt"/>
<ellipse cx="11.5" cy="0" rx="2.3" ry="5.7" fill="#c6c6c6" stroke-width="1.3"/>
<path d="M11.5,-5.2 H14.5 V5.2 H11.5 A2.1,5.2 0 0 1 11.5,-5.2 Z" fill="#fff" stroke-width="1.3"/>
<ellipse cx="14.5" cy="0" rx="2.1" ry="5.2" fill="#fff" stroke-width="1.3"/>
<path d="M14.5,-6.5 H44.0 V6.5 H14.5 A2.6,6.5 0 0 1 14.5,-6.5 Z" fill="#d2d2d2" stroke-width="1.3"/>
<path d="M14.8,-4.9 H45.7" stroke="#222" stroke-width="1.0" stroke-linecap="butt"/>
<path d="M14.8,-3.2 H46.3" stroke="#222" stroke-width="1.0" stroke-linecap="butt"/>
<path d="M14.8,-1.6 H46.5" stroke="#222" stroke-width="1.0" stroke-linecap="butt"/>
<path d="M14.8,0.0 H46.6" stroke="#222" stroke-width="1.0" stroke-linecap="butt"/>
<path d="M14.8,1.6 H46.5" stroke="#222" stroke-width="1.0" stroke-linecap="butt"/>
<path d="M14.8,3.2 H46.3" stroke="#222" stroke-width="1.0" stroke-linecap="butt"/>
<path d="M14.8,4.9 H45.7" stroke="#222" stroke-width="1.0" stroke-linecap="butt"/>
<ellipse cx="44.0" cy="0" rx="2.6" ry="6.5" fill="#d2d2d2" stroke-width="1.3"/>
<path d="M44.0,-9.0 H54.5 V9.0 H44.0 A3.6,9.0 0 0 1 44.0,-9.0 Z" fill="#fff" stroke-width="1.3"/>
<ellipse cx="54.5" cy="0" rx="3.6" ry="9.0" fill="#fff" stroke-width="1.3"/>
<path d="M54.5,-7.4 H67.0 V7.4 H54.5 A3.0,7.4 0 0 1 54.5,-7.4 Z" fill="#444" stroke-width="1.3"/>
<path d="M54.8,-5.6 H69.0" stroke="#fff" stroke-width="1.3" stroke-linecap="butt"/>
<path d="M54.8,-3.3 H69.6" stroke="#fff" stroke-width="1.3" stroke-linecap="butt"/>
<path d="M54.8,-1.1 H69.9" stroke="#fff" stroke-width="1.3" stroke-linecap="butt"/>
<path d="M54.8,1.1 H69.9" stroke="#fff" stroke-width="1.3" stroke-linecap="butt"/>
<path d="M54.8,3.3 H69.6" stroke="#fff" stroke-width="1.3" stroke-linecap="butt"/>
<path d="M54.8,5.6 H69.0" stroke="#fff" stroke-width="1.3" stroke-linecap="butt"/>
<ellipse cx="67.0" cy="0" rx="3.0" ry="7.4" fill="#444" stroke-width="1.3"/>
</g>
<path d="M596.8,426.3 L598.5,427.0 L600.1,424.4 L601.1,424.7 L600.4,427.5 L602.3,427.7 L603.6,424.9 L604.7,424.8 L604.5,427.6 L606.5,427.2 L607.4,424.3 L608.6,423.9 L608.8,426.4 L610.9,425.5 L611.3,422.7 L612.6,422.0 L613.2,424.2 L615.3,422.7 L615.2,420.2 L616.5,419.2 L617.5,420.9 L619.5,419.0 L619.0,416.7 L620.1,415.5 L621.5,416.7 L623.3,414.5 L622.3,412.6 L623.3,411.2 L625.1,411.9 L626.6,409.3 L625.2,407.9 L626.0,406.4 L628.0,406.5 L629.1,403.8 L627.4,403.0 L628.0,401.3 L630.1,400.9 L630.9,398.1 L628.9,397.9 L629.2,396.3 L631.4,395.2 L631.7,392.6 L629.6,392.9 L629.7,391.4 L631.8,389.8 L631.7,387.4 L629.5,388.3 L629.3,386.9 L631.3,384.9 L630.7,382.8 L628.5,384.2 L628.1,383.0 L629.9,380.6 L628.9,378.9 L626.8,380.8 L626.1,379.9 L627.6,377.3 L626.2,376.0 L624.4,378.3 L623.5,377.7 L624.6,374.9 L622.9,374.2 L621.3,376.8 L620.3,376.5 L621.0,373.7 L619.1,373.5 L617.8,376.3 L616.7,376.4 L616.9,373.6 L614.9,374.0 L614.0,376.9 L612.8,377.3 L612.6,374.8 L610.5,375.7 L610.1,378.5 L608.8,379.2 L608.2,377.0 L606.1,378.5 L606.2,381.0 L604.9,382.0 L603.9,380.3 L601.9,382.2 L602.4,384.5 L601.3,385.7 L599.9,384.5 L598.1,386.7 L599.1,388.6 L598.1,390.0 L596.3,389.3 L594.8,391.9 L596.2,393.3 L595.4,394.8 L593.4,394.7 L592.3,397.4 L594.0,398.2 L593.4,399.9 L591.3,400.3 L590.5,403.1 L592.5,403.3 L592.2,404.9 L590.0,406.0 L589.7,408.6 L591.8,408.3 L591.7,409.8 L589.6,411.4 L589.7,413.8 L591.9,412.9 L592.1,414.3 L590.1,416.3 L590.7,418.4 L592.9,417.0 L593.3,418.2 L591.5,420.6 L592.5,422.3 L594.6,420.4 L595.3,421.3 L593.8,423.9 L595.2,425.2 L597.0,422.9 L597.9,423.5 Z" fill="#fff" stroke="none"/>
<path d="M632.9,382.9 L632.0,382.3 L623.5,377.7 L624.4,378.3 Z" fill="#3a3a3a" stroke="#3a3a3a" stroke-width="0.6"/>
<path d="M629.8,381.4 L628.8,381.1 L620.3,376.5 L621.3,376.8 Z" fill="#3a3a3a" stroke="#3a3a3a" stroke-width="0.6"/>
<path d="M626.3,380.9 L625.2,381.0 L616.7,376.4 L617.8,376.3 Z" fill="#3a3a3a" stroke="#3a3a3a" stroke-width="0.6"/>
<path d="M622.5,381.5 L621.3,381.9 L612.8,377.3 L614.0,376.9 Z" fill="#3a3a3a" stroke="#3a3a3a" stroke-width="0.6"/>
<path d="M618.6,383.1 L617.3,383.8 L608.8,379.2 L610.1,378.5 Z" fill="#3a3a3a" stroke="#3a3a3a" stroke-width="0.6"/>
<path d="M614.7,385.6 L613.4,386.6 L604.9,382.0 L606.2,381.0 Z" fill="#3a3a3a" stroke="#3a3a3a" stroke-width="0.6"/>
<path d="M610.9,389.1 L609.8,390.3 L601.3,385.7 L602.4,384.5 Z" fill="#3a3a3a" stroke="#3a3a3a" stroke-width="0.6"/>
<path d="M607.6,393.2 L606.6,394.6 L598.1,390.0 L599.1,388.6 Z" fill="#3a3a3a" stroke="#3a3a3a" stroke-width="0.6"/>
<path d="M604.7,397.9 L603.9,399.4 L595.4,394.8 L596.2,393.3 Z" fill="#3a3a3a" stroke="#3a3a3a" stroke-width="0.6"/>
<path d="M602.5,402.8 L601.9,404.5 L593.4,399.9 L594.0,398.2 Z" fill="#3a3a3a" stroke="#3a3a3a" stroke-width="0.6"/>
<path d="M601.0,407.9 L600.7,409.5 L592.2,404.9 L592.5,403.3 Z" fill="#3a3a3a" stroke="#3a3a3a" stroke-width="0.6"/>
<path d="M600.3,412.9 L600.2,414.4 L591.7,409.8 L591.8,408.3 Z" fill="#3a3a3a" stroke="#3a3a3a" stroke-width="0.6"/>
<path d="M600.4,417.5 L600.6,418.9 L592.1,414.3 L591.9,412.9 Z" fill="#3a3a3a" stroke="#3a3a3a" stroke-width="0.6"/>
<path d="M601.4,421.6 L601.8,422.8 L593.3,418.2 L592.9,417.0 Z" fill="#3a3a3a" stroke="#3a3a3a" stroke-width="0.6"/>
<path d="M603.1,425.0 L603.8,425.9 L595.3,421.3 L594.6,420.4 Z" fill="#3a3a3a" stroke="#3a3a3a" stroke-width="0.6"/>
<path d="M605.5,427.5 L606.4,428.1 L597.9,423.5 L597.0,422.9 Z" fill="#3a3a3a" stroke="#3a3a3a" stroke-width="0.6"/>
<path d="M605.3,430.9 L607.0,431.6 L598.5,427.0 L596.8,426.3 Z" fill="#fff" stroke-width="0.9"/>
<path d="M608.9,432.1 L610.8,432.3 L602.3,427.7 L600.4,427.5 Z" fill="#fff" stroke-width="0.9"/>
<path d="M636.1,381.9 L634.7,380.6 L626.2,376.0 L627.6,377.3 Z" fill="#fff" stroke-width="0.9"/>
<path d="M633.1,379.5 L631.4,378.8 L622.9,374.2 L624.6,374.9 Z" fill="#fff" stroke-width="0.9"/>
<path d="M629.5,378.3 L627.6,378.1 L619.1,373.5 L621.0,373.7 Z" fill="#fff" stroke-width="0.9"/>
<path d="M625.4,378.2 L623.4,378.6 L614.9,374.0 L616.9,373.6 Z" fill="#fff" stroke-width="0.9"/>
<path d="M621.1,379.4 L619.0,380.3 L610.5,375.7 L612.6,374.8 Z" fill="#fff" stroke-width="0.9"/>
<path d="M616.7,381.6 L614.6,383.1 L606.1,378.5 L608.2,377.0 Z" fill="#fff" stroke-width="0.9"/>
<path d="M612.4,384.9 L610.4,386.8 L601.9,382.2 L603.9,380.3 Z" fill="#fff" stroke-width="0.9"/>
<path d="M608.4,389.1 L606.6,391.3 L598.1,386.7 L599.9,384.5 Z" fill="#fff" stroke-width="0.9"/>
<path d="M604.8,393.9 L603.3,396.5 L594.8,391.9 L596.3,389.3 Z" fill="#fff" stroke-width="0.9"/>
<path d="M601.9,399.3 L600.8,402.0 L592.3,397.4 L593.4,394.7 Z" fill="#fff" stroke-width="0.9"/>
<path d="M599.8,404.9 L599.0,407.7 L590.5,403.1 L591.3,400.3 Z" fill="#fff" stroke-width="0.9"/>
<path d="M598.5,410.6 L598.2,413.2 L589.7,408.6 L590.0,406.0 Z" fill="#fff" stroke-width="0.9"/>
<path d="M598.1,416.0 L598.2,418.4 L589.7,413.8 L589.6,411.4 Z" fill="#fff" stroke-width="0.9"/>
<path d="M598.6,420.9 L599.2,423.0 L590.7,418.4 L590.1,416.3 Z" fill="#fff" stroke-width="0.9"/>
<path d="M600.0,425.2 L601.0,426.9 L592.5,422.3 L591.5,420.6 Z" fill="#fff" stroke-width="0.9"/>
<path d="M602.3,428.5 L603.7,429.8 L595.2,425.2 L593.8,423.9 Z" fill="#fff" stroke-width="0.9"/>
<path d="M605.3,430.9 L607.0,431.6 L608.6,429.0 L609.6,429.3 L608.9,432.1 L610.8,432.3 L612.1,429.5 L613.2,429.4 L613.0,432.2 L615.0,431.8 L615.9,428.9 L617.1,428.5 L617.3,431.0 L619.4,430.1 L619.8,427.3 L621.1,426.6 L621.7,428.8 L623.8,427.3 L623.7,424.8 L625.0,423.8 L626.0,425.5 L628.0,423.6 L627.5,421.3 L628.6,420.1 L630.0,421.3 L631.8,419.1 L630.8,417.2 L631.8,415.8 L633.6,416.5 L635.1,413.9 L633.7,412.5 L634.5,411.0 L636.5,411.1 L637.6,408.4 L635.9,407.6 L636.5,405.9 L638.6,405.5 L639.4,402.7 L637.4,402.5 L637.7,400.9 L639.9,399.8 L640.2,397.2 L638.1,397.5 L638.2,396.0 L640.3,394.4 L640.2,392.0 L638.0,392.9 L637.8,391.5 L639.8,389.5 L639.2,387.4 L637.0,388.8 L636.6,387.6 L638.4,385.2 L637.4,383.5 L635.3,385.4 L634.6,384.5 L636.1,381.9 L634.7,380.6 L632.9,382.9 L632.0,382.3 L633.1,379.5 L631.4,378.8 L629.8,381.4 L628.8,381.1 L629.5,378.3 L627.6,378.1 L626.3,380.9 L625.2,381.0 L625.4,378.2 L623.4,378.6 L622.5,381.5 L621.3,381.9 L621.1,379.4 L619.0,380.3 L618.6,383.1 L617.3,383.8 L616.7,381.6 L614.6,383.1 L614.7,385.6 L613.4,386.6 L612.4,384.9 L610.4,386.8 L610.9,389.1 L609.8,390.3 L608.4,389.1 L606.6,391.3 L607.6,393.2 L606.6,394.6 L604.8,393.9 L603.3,396.5 L604.7,397.9 L603.9,399.4 L601.9,399.3 L600.8,402.0 L602.5,402.8 L601.9,404.5 L599.8,404.9 L599.0,407.7 L601.0,407.9 L600.7,409.5 L598.5,410.6 L598.2,413.2 L600.3,412.9 L600.2,414.4 L598.1,416.0 L598.2,418.4 L600.4,417.5 L600.6,418.9 L598.6,420.9 L599.2,423.0 L601.4,421.6 L601.8,422.8 L600.0,425.2 L601.0,426.9 L603.1,425.0 L603.8,425.9 L602.3,428.5 L603.7,429.8 L605.5,427.5 L606.4,428.1 Z" fill="#fff" stroke-width="1.1"/>
<ellipse cx="619.2" cy="405.2" rx="16.2" ry="26.2" transform="rotate(28.4 619.2 405.2)" stroke-width="1"/>
<ellipse cx="619.5" cy="405.3" rx="14.6" ry="23.8" transform="rotate(28.4 619.5 405.3)" stroke-width="1.2"/>
<ellipse cx="618.7" cy="404.9" rx="13.4" ry="22.2" transform="rotate(28.4 618.7 404.9)" stroke-width="1"/>
<ellipse cx="619.9" cy="405.6" rx="10.2" ry="17.2" transform="rotate(28.4 619.9 405.6)" stroke-width="1.2"/>
<ellipse cx="619.4" cy="405.3" rx="9.2" ry="15.6" transform="rotate(28.4 619.4 405.3)" stroke-width="0.9"/>
<ellipse cx="620.3" cy="405.8" rx="6.4" ry="10.6" transform="rotate(28.4 620.3 405.8)" stroke-width="1.3" fill="#fff"/>
<path d="M615.7,414.2 L618.2,415.5 L627.3,398.7 L624.8,397.3 Z" fill="#fff" stroke="none"/>
<ellipse cx="622.7" cy="407.1" rx="5.8" ry="9.6" transform="rotate(28.4 622.7 407.1)" stroke-width="1.2" fill="#fff"/>
<path d="M619.9,413.4 L625.8,416.6 L632.3,404.5 L626.4,401.3 Z" fill="#fff" stroke="none"/>
<path d="M621.2,414.1 L625.8,416.6 M627.8,402.0 L632.3,404.5" stroke-width="1.3"/>
<ellipse cx="629.1" cy="410.5" rx="4.2" ry="6.9" transform="rotate(28.4 629.1 410.5)" stroke-width="1.4" fill="#fff"/>
<path d="M649.6,422.9 L652.1,419.2 Q653.3,415 651.7,411.9 Q650.4,410.2 648.3,410.4 Q646,410.8 644,412.6 Q641.2,415.5 639.9,420.4 Q639.3,424 640.8,426 Q642.5,427.6 645,426.6" stroke-width="1.9"/>
<circle cx="649.5" cy="423" r="1.3" fill="#111" stroke="none"/>
<path d="M650.8,411.6 Q648.5,410.6 645.5,412.6 Q642,415.5 641.2,420.5" stroke-width="0.7" stroke="#fff"/>
</g>
<!--/RIGHTPARTS-->
</svg>
</body></html>
